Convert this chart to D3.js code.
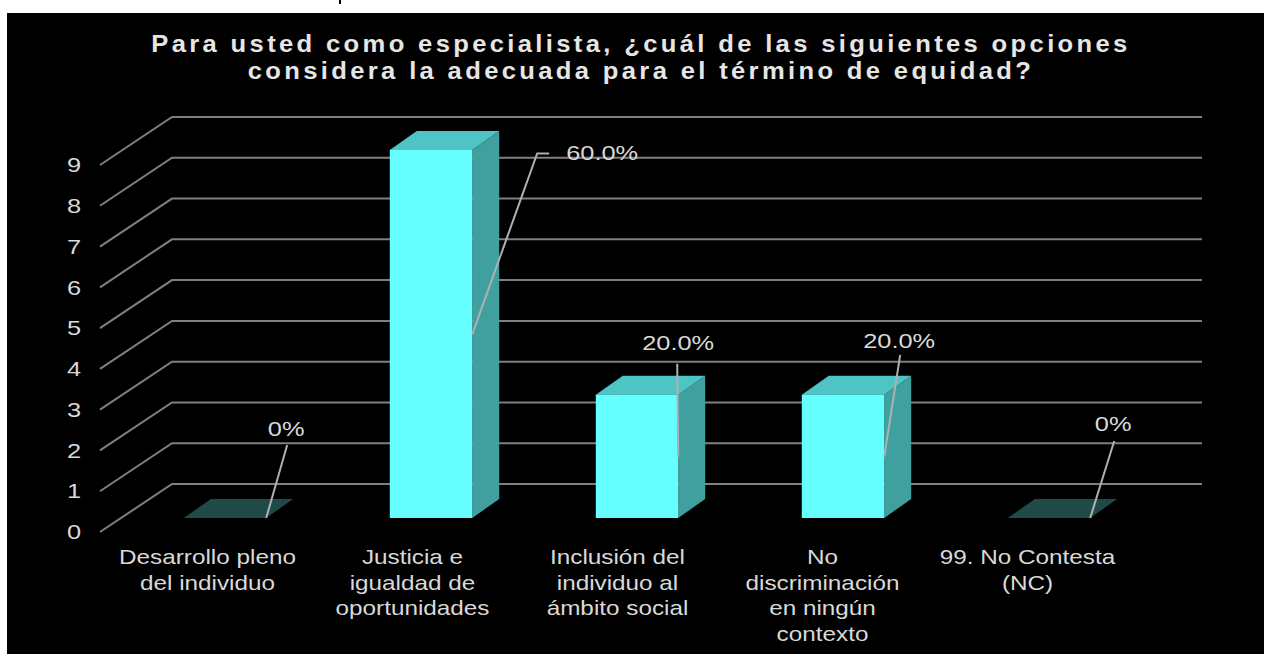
<!DOCTYPE html>
<html><head><meta charset="utf-8">
<script src="https://cdn.jsdelivr.net/npm/d3@7"></script>
<style>
html,body{margin:0;padding:0;background:#fff;overflow:hidden}
svg{display:block}
text{font-family:"Liberation Sans",Arial,sans-serif}
</style></head><body>
<svg id="c" width="1264" height="654"></svg>
<script>
const titleLines = ["Para usted como especialista, ¿cuál de las siguientes opciones","considera la adecuada para el término de equidad?"];
const categories = ["Desarrollo pleno\ndel individuo","Justicia e\nigualdad de\noportunidades","Inclusión del\nindividuo al\námbito social","No\ndiscriminación\nen ningún\ncontexto","99. No Contesta\n(NC)"];
const counts = [0,9,3,3,0];
const shareLabels = ["0%","60.0%","20.0%","20.0%","0%"];
const axisTicks = [0,1,2,3,4,5,6,7,8,9];

// layout
const C = {front:"#66ffff", top:"#4fc4c4", side:"#40a0a0", flat:"#1f4a48", grid:"#7f7f7f", text:"#d9d9d9", leader:"#b0b0b0"};
const depth = {x:27, y:-19}, wall = {x:72, y:-48};
const barBase = -14; // bar baseline relative to the axis baseline
const leaderPaths = [[[21,-73]],[[65,-181],[77,-181]],[[-1,-93]],[[16,-102]],[[24,-77]]];
const labelAt = [[20,-82],[130,-175],[0,-107],[15,-109],[23,-87]];
const stretchTitle = 1.113, stretchCat = 1.185, stretchVal = 1.21;

const svg = d3.select("#c");
svg.append("rect").attr("x",7).attr("y",13).attr("width",1257).attr("height",641).attr("fill","#000");
svg.append("line").attr("x1",340).attr("x2",340).attr("y1",0).attr("y2",4).attr("stroke","#000").attr("stroke-width",2);

const y = d3.scaleLinear().domain([0,9]).range([532,165]);
const x = d3.scaleBand().domain(categories).range([122,1152]).paddingInner(0.6).paddingOuter(0.3);
const xLabel = d3.scaleBand().domain(categories).range([105,1130]).paddingInner(0.6).paddingOuter(0.3);

// grid
const grid = svg.append("g");
axisTicks.forEach(t=>{
  grid.append("polyline")
    .attr("points",[[100,y(t)],[100+wall.x,y(t)+wall.y],[1202,y(t)+wall.y]].join(" "))
    .attr("fill","none").attr("stroke",C.grid).attr("stroke-width",2);
});

// value axis
const yAxis = svg.append("g").attr("transform","translate(74,0)")
  .call(d3.axisLeft(y).tickValues(axisTicks).tickSize(0).tickPadding(0).tickFormat(d3.format("d")));
yAxis.select(".domain").remove();
yAxis.selectAll("text").attr("fill",C.text).attr("font-size",21).attr("font-family",'"Liberation Sans"')
  .attr("text-anchor","middle").attr("x",0).attr("transform",`scale(${stretchVal},1)`);

// category axis
const xAxis = svg.append("g").attr("transform","translate(0,540)")
  .call(d3.axisBottom(xLabel).tickSize(0).tickFormat(""));
xAxis.select(".domain").remove();
xAxis.selectAll(".tick text").each(function(d){
  const t = d3.select(this).attr("fill",C.text).attr("font-size",20.5).attr("font-family",'"Liberation Sans"')
    .attr("y",null).attr("dy",null).attr("transform",`scale(${stretchCat},1)`);
  d.split("\n").forEach((line,i)=>{
    t.append("tspan").attr("x",0).attr("y",24.5+i*25.5).text(line);
  });
});

// bars
const bars = svg.append("g").selectAll("g").data(counts).join("g");
bars.each(function(v,i){
  const g = d3.select(this), x0 = x(categories[i]), w = x.bandwidth();
  const b = y(0)+barBase, t = y(v)+barBase-1, x1 = x0+w;
  if(v===0){
    g.append("polygon").attr("fill",C.flat)
      .attr("points",[[x0,b],[x1,b],[x1+depth.x,b+depth.y],[x0+depth.x,b+depth.y]].join(" "));
    return;
  }
  g.append("polygon").attr("fill",C.side)
    .attr("points",[[x1,b],[x1+depth.x,b+depth.y],[x1+depth.x,t+depth.y],[x1,t]].join(" "));
  g.append("polygon").attr("fill",C.top)
    .attr("points",[[x0,t],[x1,t],[x1+depth.x,t+depth.y],[x0+depth.x,t+depth.y]].join(" "));
  g.append("rect").attr("x",x0).attr("y",t).attr("width",w).attr("height",b-t).attr("fill",C.front);
});

// leaders and data labels
counts.forEach((v,i)=>{
  const ax = x(categories[i])+x.bandwidth(), ay = (y(0)+y(v))/2+barBase;
  const pts = [[ax,ay]].concat(leaderPaths[i].map(o=>[ax+o[0],ay+o[1]]));
  svg.append("polyline").attr("points",pts.join(" ")).attr("fill","none")
    .attr("stroke",C.leader).attr("stroke-width",2);
  svg.append("text").attr("transform",`translate(${ax+labelAt[i][0]},${ay+labelAt[i][1]}) scale(${stretchVal},1)`)
    .attr("text-anchor","middle").attr("fill",C.text).attr("font-size",21).text(shareLabels[i]);
});

// title
titleLines.forEach((l,i)=>{
  svg.append("text").attr("transform",`translate(641,${52+i*27}) scale(${stretchTitle},1)`).attr("text-anchor","middle")
    .attr("fill","#e6e6e6").attr("font-weight","bold").attr("font-size",23)
    .attr("letter-spacing",3).text(l);
});
</script>
</body></html>
